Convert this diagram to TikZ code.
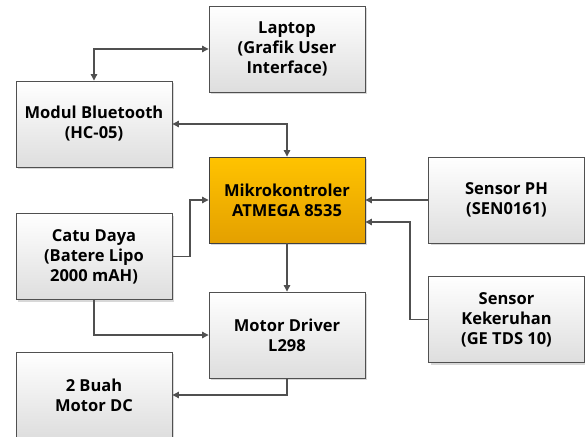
\documentclass[tikz,border=0pt]{standalone}
\usepackage{fontspec}
\setmainfont{Open Sans}
\usetikzlibrary{arrows.meta,shadows}
\definecolor{edge}{HTML}{505050}
\begin{document}
\begin{tikzpicture}[x=1pt,y=-1pt,
  box/.style={draw=edge, line width=0.9pt, top color=white, bottom color=black!13,
    minimum width=156pt, minimum height=86pt, align=center, inner sep=2pt,
    font=\fontsize{16.5}{20}\selectfont\bfseries,
    drop shadow={shadow xshift=2pt, shadow yshift=-2pt, fill=black!30, opacity=0.5}},
  arr/.style={draw=edge, line width=1.1pt, -{Triangle[width=6.5pt,length=6.5pt]}},
  arrb/.style={draw=edge, line width=1.1pt, {Triangle[width=6.5pt,length=6.5pt]}-{Triangle[width=6.5pt,length=6.5pt]}}]
\useasboundingbox (0,0) rectangle (585,436);
\node[box] (lap) at (287,49) {Laptop\\(Grafik User\\Interface)};
\node[box] (bt) at (94,124) {Modul Bluetooth\\(HC-05)};
\node[box, draw=black!75, top color={rgb,255:red,255;green,195;blue,0}, bottom color={rgb,255:red,228;green,160;blue,0}] (mik) at (287,200) {Mikrokontroler\\ATMEGA 8535};
\node[box] (ph) at (506.5,200) {Sensor PH\\(SEN0161)};
\node[box] (catu) at (94,256.5) {Catu Daya\\(Batere Lipo\\2000 mAH)};
\node[box] (md) at (287,335) {Motor Driver\\L298};
\node[box] (kek) at (506.5,319.5) {Sensor\\Kekeruhan\\(GE TDS 10)};
\node[box] (dc) at (94,395) {2 Buah\\Motor DC};
\draw[arrb] (bt.north) |- (lap.west);
\draw[arrb] (bt.east) -| (mik.north);
\coordinate (cm) at (190,256.5);
\draw[arr] (catu.east) -- (cm) |- (mik.west);
\draw[arr] (catu.south) |- (md.west);
\draw[arr] (mik.south) -- (md.north);
\draw[arr] (md.south) |- (dc.east);
\draw[arr] (ph.west) -- (mik.east);
\coordinate (kc) at (410,319.5);
\draw[arr] (kek.west) -- (kc) |- ([yshift=-22pt]mik.east);
\end{tikzpicture}
\end{document}
